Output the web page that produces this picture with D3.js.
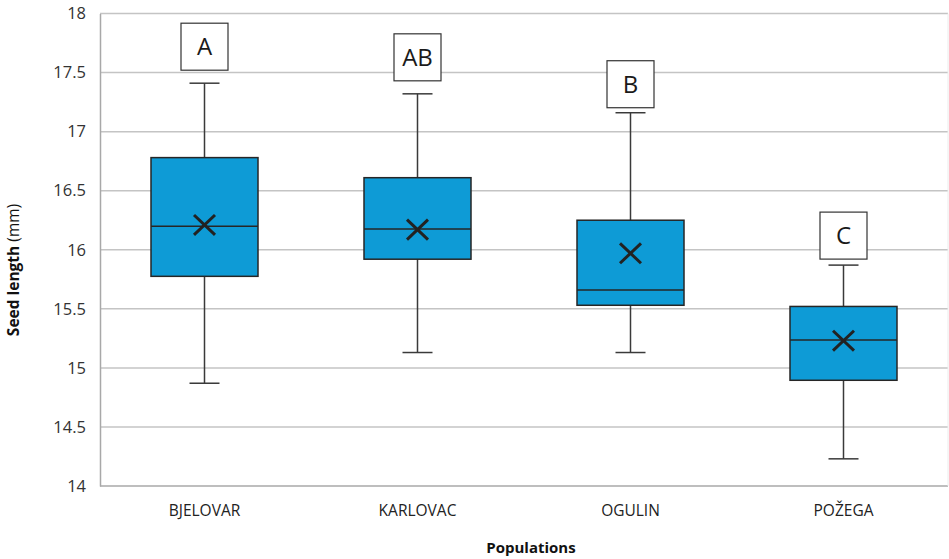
<!DOCTYPE html>
<html>
<head>
<meta charset="utf-8">
<script src="https://cdn.jsdelivr.net/npm/d3@7"></script>
<style>
  html, body { margin: 0; padding: 0; background: #fff; }
  svg { display: block; }
</style>
</head>
<body>
<svg id="chart" width="949" height="559"></svg>
<script>
// Seed length per population (mm): box-plot statistics
const populations = ["BJELOVAR", "KARLOVAC", "OGULIN", "POŽEGA"];
const whiskerMin  = [14.87, 15.13, 15.13, 14.23];
const quartile1   = [15.775, 15.92, 15.53, 14.895];
const medians     = [16.20, 16.175, 15.66, 15.235];
const quartile3   = [16.78, 16.61, 16.25, 15.52];
const whiskerMax  = [17.41, 17.32, 17.16, 15.87];
const means       = [16.21, 16.17, 15.97, 15.23];
const groupLetters = ["A", "AB", "B", "C"];
const yTicks = [14, 14.5, 15, 15.5, 16, 16.5, 17, 17.5, 18];

const svg = d3.select("#chart");
const plot = { left: 98, right: 950, top: 13.5, bottom: 486 };

const x = d3.scaleBand()
  .domain(populations)
  .range([plot.left, plot.right]);

const y = d3.scaleLinear()
  .domain([14, 18])
  .range([plot.bottom, plot.top]);

const font = "'Open Sans', 'DejaVu Sans', sans-serif";

// Horizontal gridlines
svg.append("g")
  .selectAll("line")
  .data(yTicks.slice(1))
  .join("line")
  .attr("x1", plot.left + 2).attr("x2", 948)
  .attr("y1", d => y(d)).attr("y2", d => y(d))
  .attr("stroke", "#c4c4c4").attr("stroke-width", 1.5);

// Y axis with tick labels
const yAxis = d3.axisLeft(y).tickValues(yTicks).tickSize(0).tickPadding(14)
  .tickFormat(d3.format("~g"));
const gy = svg.append("g")
  .attr("transform", `translate(${plot.left + 2},0)`)
  .call(yAxis);
gy.select(".domain").attr("stroke", "#a8a8a8").attr("stroke-width", 1.5);
gy.selectAll("text")
  .attr("font-family", font).attr("font-size", 16.5).attr("fill", "#333");

// X axis baseline and category labels
const xAxis = d3.axisBottom(x).tickSize(0).tickPadding(19);
const gx = svg.append("g")
  .attr("transform", `translate(0,${plot.bottom})`)
  .call(xAxis);
gx.select(".domain").attr("d", `M${plot.left + 2},0H948`)
  .attr("stroke", "#a8a8a8").attr("stroke-width", 1.5);
gx.selectAll("text")
  .attr("font-family", font).attr("font-size", 15.5).attr("fill", "#222");

// Faint right border
svg.append("line")
  .attr("x1", 948).attr("x2", 948).attr("y1", plot.top).attr("y2", plot.bottom)
  .attr("stroke", "#ececec").attr("stroke-width", 1);

// Axis titles
svg.append("text")
  .attr("x", 531).attr("y", 553)
  .attr("text-anchor", "middle")
  .attr("font-family", font).attr("font-size", 15).attr("font-weight", "bold")
  .attr("fill", "#111")
  .text("Populations");

const yTitle = svg.append("text")
  .attr("transform", "translate(19,270) rotate(-90)")
  .attr("text-anchor", "middle")
  .attr("font-family", font).attr("font-size", 15.5).attr("fill", "#111");
yTitle.append("tspan").attr("font-weight", "bold").text("Seed length");
yTitle.append("tspan").text(" (mm)");

// Box plots
const boxW = 107;
const capW = 30;
const stats = populations.map((p, i) => ({
  name: p, min: whiskerMin[i], q1: quartile1[i], med: medians[i],
  q3: quartile3[i], max: whiskerMax[i], mean: means[i], letter: groupLetters[i]
}));
const cx = d => x(d.name) + x.bandwidth() / 2;

const g = svg.append("g").selectAll("g").data(stats).join("g");

// whisker stems
g.append("line")
  .attr("x1", cx).attr("x2", cx)
  .attr("y1", d => y(d.max)).attr("y2", d => y(d.min))
  .attr("stroke", "#3a3a3a").attr("stroke-width", 1.5);
// caps
g.selectAll(".cap").data(d => [d.min, d.max].map(v => ({ c: cx(d), v })))
  .join("line").attr("class", "cap")
  .attr("x1", d => d.c - capW / 2).attr("x2", d => d.c + capW / 2)
  .attr("y1", d => y(d.v)).attr("y2", d => y(d.v))
  .attr("stroke", "#3a3a3a").attr("stroke-width", 1.5);
// boxes
g.append("rect")
  .attr("x", d => cx(d) - boxW / 2).attr("width", boxW)
  .attr("y", d => y(d.q3)).attr("height", d => y(d.q1) - y(d.q3))
  .attr("fill", "#0e9bd6").attr("stroke", "#262626").attr("stroke-width", 1.5);
// medians
g.append("line")
  .attr("x1", d => cx(d) - boxW / 2).attr("x2", d => cx(d) + boxW / 2)
  .attr("y1", d => y(d.med)).attr("y2", d => y(d.med))
  .attr("stroke", "#262626").attr("stroke-width", 1.5);
// mean markers
const mk = 10.5;
g.selectAll(".mean").data(d => [[-1, -1, 1, 1], [-1, 1, 1, -1]].map(s => ({ c: cx(d), m: y(d.mean), s })))
  .join("line").attr("class", "mean")
  .attr("x1", d => d.c + d.s[0] * mk).attr("y1", d => d.m + d.s[1] * mk * 0.95)
  .attr("x2", d => d.c + d.s[2] * mk).attr("y2", d => d.m + d.s[3] * mk * 0.95)
  .attr("stroke", "#222").attr("stroke-width", 3);

// Group letters in framed boxes above the whiskers
const labelGap = [13, 13, 5, 6];
const labelSize = 47;
const lab = g.append("g")
  .attr("transform", (d, i) => `translate(${cx(d)},${y(d.max) - labelGap[i] - labelSize / 2})`);
lab.append("rect")
  .attr("x", -labelSize / 2).attr("y", -labelSize / 2)
  .attr("width", labelSize).attr("height", labelSize)
  .attr("fill", "#fff").attr("stroke", "#333").attr("stroke-width", 1.2);
lab.append("text")
  .attr("text-anchor", "middle").attr("dy", "0.36em")
  .attr("font-family", font).attr("font-size", 24).attr("fill", "#1a1a1a")
  .text(d => d.letter);
</script>
</body>
</html>
